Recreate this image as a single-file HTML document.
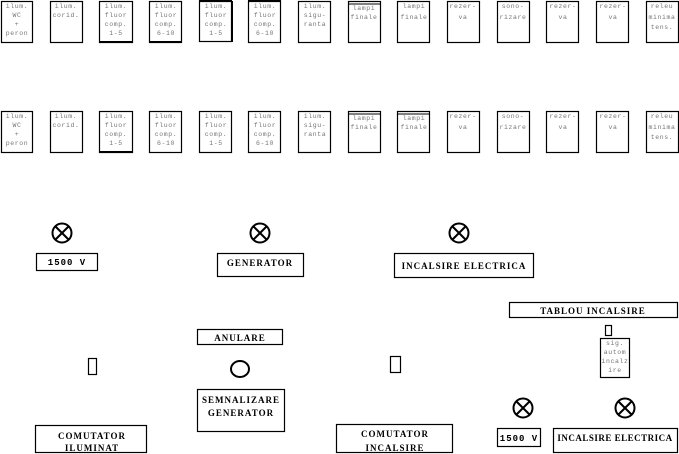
<!DOCTYPE html>
<html><head><style>
html,body{margin:0;padding:0;background:#fff;width:679px;height:454px;overflow:hidden}
svg{display:block}
.s{font-family:"Liberation Mono",monospace;font-size:6.5px;fill:#777;text-anchor:middle;letter-spacing:0.6px}
.b{font-family:"Liberation Serif",serif;font-size:9px;font-weight:bold;fill:#000;text-anchor:middle;letter-spacing:1px}
rect{fill:#fff;stroke:#000;stroke-width:1.2}
</style></head><body>
<svg width="679" height="454" xmlns="http://www.w3.org/2000/svg">
<g id="row1">
<rect x="1.5" y="1.5" width="31" height="41"/>
<text class="s" x="17" y="8">ilum.</text><text class="s" x="17" y="17">WC</text><text class="s" x="17" y="26">+</text><text class="s" x="17" y="35">peron</text>
<rect x="50.5" y="1.5" width="32" height="41"/>
<text class="s" x="66" y="8">ilum.</text><text class="s" x="66" y="17">corid.</text>
<rect x="99.5" y="1.5" width="33" height="41"/><line x1="99" y1="42" x2="133" y2="42" stroke="#000" stroke-width="2"/>
<text class="s" x="116" y="8">ilum.</text><text class="s" x="116" y="17">fluor</text><text class="s" x="116" y="26">comp.</text><text class="s" x="116" y="35">1-5</text>
<rect x="149.5" y="1.5" width="32" height="41"/><line x1="149" y1="42" x2="182" y2="42" stroke="#000" stroke-width="2"/>
<text class="s" x="166" y="8">ilum.</text><text class="s" x="166" y="17">fluor</text><text class="s" x="166" y="26">comp.</text><text class="s" x="166" y="35">6-10</text>
<rect x="199.5" y="1.5" width="32" height="40"/><line x1="199" y1="1" x2="232" y2="1" stroke="#000" stroke-width="2"/><line x1="232" y1="1" x2="232" y2="42" stroke="#000" stroke-width="2"/>
<text class="s" x="216" y="8">ilum.</text><text class="s" x="216" y="17">fluor</text><text class="s" x="216" y="26">comp.</text><text class="s" x="216" y="35">1-5</text>
<rect x="248.5" y="1.5" width="32" height="41"/><line x1="248" y1="1" x2="281" y2="1" stroke="#000" stroke-width="2"/>
<text class="s" x="265" y="8">ilum.</text><text class="s" x="265" y="17">fluor</text><text class="s" x="265" y="26">comp.</text><text class="s" x="265" y="35">6-10</text>
<rect x="298.5" y="1.5" width="32" height="41"/>
<text class="s" x="315" y="8">ilum.</text><text class="s" x="315" y="17">sigu-</text><text class="s" x="315" y="26">ranta</text>
<rect x="348.5" y="1.5" width="32" height="41"/><line x1="348" y1="4" x2="381" y2="4" stroke="#000"/>
<text class="s" x="364" y="10">lampi</text><text class="s" x="364" y="19">finale</text>
<rect x="397.5" y="1.5" width="32" height="41"/>
<text class="s" x="414" y="8">lampi</text><text class="s" x="414" y="19">finale</text>
<rect x="447.5" y="1.5" width="32" height="41"/>
<text class="s" x="463" y="8">rezer-</text><text class="s" x="463" y="19">va</text>
<rect x="497.5" y="1.5" width="32" height="41"/>
<text class="s" x="513" y="8">sono-</text><text class="s" x="513" y="19">rizare</text>
<rect x="546.5" y="1.5" width="32" height="41"/>
<text class="s" x="563" y="8">rezer-</text><text class="s" x="563" y="19">va</text>
<rect x="596.5" y="1.5" width="32" height="41"/>
<text class="s" x="613" y="8">rezer-</text><text class="s" x="613" y="19">va</text>
<rect x="646.5" y="1.5" width="32" height="41"/>
<text class="s" x="662" y="8">releu</text><text class="s" x="662" y="19">minima</text><text class="s" x="662" y="29">tens.</text>
</g>
<g transform="translate(0,110)">
<rect x="1.5" y="1.5" width="31" height="41"/>
<text class="s" x="17" y="8">ilum.</text><text class="s" x="17" y="17">WC</text><text class="s" x="17" y="26">+</text><text class="s" x="17" y="35">peron</text>
<rect x="50.5" y="1.5" width="32" height="41"/>
<text class="s" x="66" y="8">ilum.</text><text class="s" x="66" y="17">corid.</text>
<rect x="99.5" y="1.5" width="33" height="41"/><line x1="99" y1="42" x2="133" y2="42" stroke="#000" stroke-width="2"/>
<text class="s" x="116" y="8">ilum.</text><text class="s" x="116" y="17">fluor</text><text class="s" x="116" y="26">comp.</text><text class="s" x="116" y="35">1-5</text>
<rect x="149.5" y="1.5" width="32" height="41"/>
<text class="s" x="166" y="8">ilum.</text><text class="s" x="166" y="17">fluor</text><text class="s" x="166" y="26">comp.</text><text class="s" x="166" y="35">6-10</text>
<rect x="199.5" y="1.5" width="32" height="41"/>
<text class="s" x="216" y="8">ilum.</text><text class="s" x="216" y="17">fluor</text><text class="s" x="216" y="26">comp.</text><text class="s" x="216" y="35">1-5</text>
<rect x="248.5" y="1.5" width="32" height="41"/>
<text class="s" x="265" y="8">ilum.</text><text class="s" x="265" y="17">fluor</text><text class="s" x="265" y="26">comp.</text><text class="s" x="265" y="35">6-10</text>
<rect x="298.5" y="1.5" width="32" height="41"/>
<text class="s" x="315" y="8">ilum.</text><text class="s" x="315" y="17">sigu-</text><text class="s" x="315" y="26">ranta</text>
<rect x="348.5" y="1.5" width="32" height="41"/><line x1="348" y1="4" x2="381" y2="4" stroke="#000"/>
<text class="s" x="364" y="10">lampi</text><text class="s" x="364" y="19">finale</text>
<rect x="397.5" y="1.5" width="32" height="41"/><line x1="397" y1="4" x2="430" y2="4" stroke="#000"/>
<text class="s" x="414" y="10">lampi</text><text class="s" x="414" y="19">finale</text>
<rect x="447.5" y="1.5" width="32" height="41"/>
<text class="s" x="463" y="8">rezer-</text><text class="s" x="463" y="19">va</text>
<rect x="497.5" y="1.5" width="32" height="41"/>
<text class="s" x="513" y="8">sono-</text><text class="s" x="513" y="19">rizare</text>
<rect x="546.5" y="1.5" width="32" height="41"/>
<text class="s" x="563" y="8">rezer-</text><text class="s" x="563" y="19">va</text>
<rect x="596.5" y="1.5" width="32" height="41"/>
<text class="s" x="613" y="8">rezer-</text><text class="s" x="613" y="19">va</text>
<rect x="646.5" y="1.5" width="32" height="41"/>
<text class="s" x="662" y="8">releu</text><text class="s" x="662" y="19">minima</text><text class="s" x="662" y="29">tens.</text>
</g>
<g fill="none" stroke="#000" stroke-width="2">
<circle cx="62" cy="233" r="9.5"/><line x1="55.5" y1="226.5" x2="68.5" y2="239.5"/><line x1="68.5" y1="226.5" x2="55.5" y2="239.5"/>
<circle cx="260" cy="233" r="9.5"/><line x1="253.5" y1="226.5" x2="266.5" y2="239.5"/><line x1="266.5" y1="226.5" x2="253.5" y2="239.5"/>
<circle cx="459" cy="233" r="9.5"/><line x1="452.5" y1="226.5" x2="465.5" y2="239.5"/><line x1="465.5" y1="226.5" x2="452.5" y2="239.5"/>
<circle cx="523" cy="408" r="9.5"/><line x1="516.5" y1="401.5" x2="529.5" y2="414.5"/><line x1="529.5" y1="401.5" x2="516.5" y2="414.5"/>
<circle cx="625" cy="408" r="9.5"/><line x1="618.5" y1="401.5" x2="631.5" y2="414.5"/><line x1="631.5" y1="401.5" x2="618.5" y2="414.5"/>
<ellipse cx="240" cy="369" rx="9" ry="8"/>
</g>
<rect x="36.5" y="253.5" width="61" height="17"/><text class="b" x="67" y="265" style="font-family:'Liberation Mono',monospace">1500 V</text>
<rect x="217.5" y="253.5" width="86" height="23"/><text class="b" x="260" y="266">GENERATOR</text>
<rect x="394.5" y="253.5" width="139" height="24"/><text class="b" x="464" y="269">INCALSIRE ELECTRICA</text>
<rect x="509.5" y="302.5" width="168" height="15"/><text class="b" x="593" y="314">TABLOU INCALSIRE</text>
<rect x="605.5" y="325.5" width="6" height="10"/>
<rect x="600.5" y="338.5" width="29" height="39"/>
<text class="s" x="615" y="345">sig.</text><text class="s" x="615" y="354">autom</text><text class="s" x="615" y="363">incalz</text><text class="s" x="615" y="372">ire</text>
<rect x="197.5" y="329.5" width="85" height="15"/><text class="b" x="240" y="341">ANULARE</text>
<rect x="197.5" y="389.5" width="87" height="42"/><text class="b" x="241" y="403">SEMNALIZARE</text><text class="b" x="241" y="416">GENERATOR</text>
<rect x="88.5" y="358.5" width="8" height="16"/>
<rect x="390.5" y="356.5" width="10" height="16"/>
<rect x="35.5" y="425.5" width="111" height="27"/><text class="b" x="92" y="439">COMUTATOR</text><text class="b" x="92" y="451">ILUMINAT</text>
<rect x="336.5" y="424.5" width="116" height="28"/><text class="b" x="395" y="437">COMUTATOR</text><text class="b" x="395" y="451">INCALSIRE</text>
<rect x="497.5" y="428.5" width="43" height="18"/><text class="b" x="519" y="441" style="font-family:'Liberation Mono',monospace">1500 V</text>
<rect x="553.5" y="428.5" width="124" height="24"/><text class="b" x="615" y="441" style="letter-spacing:0.5px">INCALSIRE ELECTRICA</text>
</svg>
</body></html>
